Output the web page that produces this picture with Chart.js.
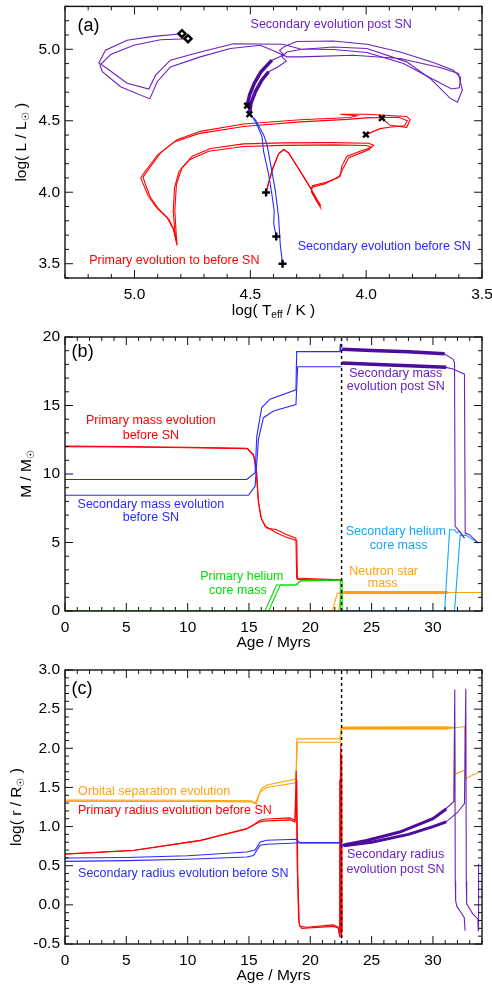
<!DOCTYPE html>
<html>
<head>
<meta charset="utf-8">
<script src="https://cdn.jsdelivr.net/npm/chart.js@4.4.1/dist/chart.umd.min.js"></script>
<style>
  body { margin: 0; background: #fff; }
  canvas { position: absolute; left: 0; }
</style>
</head>
<body>
<canvas id="hrChart" width="492" height="330" style="top:0"></canvas>
<canvas id="massChart" width="492" height="325" style="top:330px"></canvas>
<canvas id="radiusChart" width="492" height="332" style="top:655px"></canvas>
<script>
// Binary evolution figure: (a) HR diagram, (b) masses, (c) radii / separation
const FONT = '"Liberation Sans", Arial, Helvetica, sans-serif';
const RED = '#ff0000', BLUE = '#2a2aff', PURPLE = '#6a22bd', PURPLE_DARK = '#4c0c9c';
const ORANGE = '#ffa20f', GREEN = '#00dc00', SKY = '#12a6ff';

// ---- panel (a): [log Teff, log L] ----
const primaryHR1 = [[4.432,3.998],[4.421,4.067],[4.402,4.171],[4.378,4.269],[4.356,4.299],[4.335,4.275],[4.299,4.183],[4.263,4.090],[4.241,4.032],[4.213,3.951],[4.195,3.905],[4.205,3.93],[4.227,3.986],[4.241,4.032],[4.177,4.060],[4.112,4.113],[4.105,4.183],[4.083,4.252],[4.026,4.287],[3.976,4.315],[3.968,4.329],[3.990,4.343],[4.141,4.347],[4.356,4.345],[4.529,4.338],[4.672,4.306],[4.751,4.252],[4.795,4.171],[4.819,4.056],[4.826,3.870],[4.820,3.708],[4.816,3.627],[4.828,3.731],[4.852,3.812],[4.895,3.882],[4.931,3.963],[4.953,4.056],[4.963,4.106],[4.945,4.148],[4.888,4.275],[4.816,4.368],[4.716,4.426],[4.529,4.477],[4.284,4.507],[4.069,4.523],[4.040,4.535],[4.112,4.546],[3.997,4.546],[3.825,4.530],[3.810,4.507],[3.825,4.454],[3.897,4.468],[3.932,4.519]];
const primaryHR2 = [[4.432,3.998],[4.421,4.067],[4.402,4.171],[4.378,4.269],[4.356,4.299],[4.335,4.275],[4.299,4.183],[4.263,4.090],[4.241,4.032],[4.220,3.968],[4.202,3.918],[4.198,3.895],[4.215,3.94],[4.236,4.000],[4.232,4.045],[4.170,4.072],[4.118,4.105],[4.098,4.172],[4.075,4.242],[4.020,4.277],[3.985,4.300],[3.980,4.316],[4.000,4.327],[4.141,4.331],[4.356,4.328],[4.529,4.320],[4.680,4.287],[4.762,4.228],[4.808,4.145],[4.827,4.035],[4.833,3.870],[4.825,3.708],[4.818,3.640],[4.833,3.745],[4.860,3.823],[4.905,3.893],[4.941,3.975],[4.963,4.060],[4.973,4.100],[4.957,4.140],[4.900,4.262],[4.828,4.352],[4.724,4.410],[4.529,4.460],[4.284,4.492],[4.080,4.510],[4.000,4.520],[3.860,4.525],[3.822,4.500],[3.835,4.465],[3.900,4.455],[3.940,4.445],[4.001,4.403]];
const secondaryHR1 = [[4.388,3.690],[4.399,3.778],[4.397,3.870],[4.407,3.986],[4.421,4.125],[4.443,4.287],[4.450,4.391],[4.471,4.472],[4.500,4.553],[4.514,4.606]];
const secondaryHR2 = [[4.361,3.500],[4.371,3.639],[4.378,3.824],[4.392,4.009],[4.407,4.148],[4.428,4.333],[4.443,4.403],[4.478,4.507],[4.504,4.546]];
const postSNHR1 = [[4.514,4.606],[4.503,4.681],[4.483,4.762],[4.454,4.843],[4.407,4.924],[4.371,4.950],[4.356,4.963],[4.374,4.993],[4.352,5.020],[4.300,5.054],[4.141,5.058],[3.997,5.035],[3.853,4.981],[3.710,4.907],[3.624,4.854],[3.592,4.801],[3.598,4.731],[3.631,4.722],[3.724,4.801],[3.839,4.900],[3.997,4.977],[4.141,4.998],[4.284,5.002],[4.360,5.035],[4.572,5.039],[4.716,4.981],[4.845,4.924],[4.909,4.819],[4.938,4.722],[5.032,4.762],[5.118,4.866],[5.154,4.905],[5.125,4.993],[5.032,5.063],[4.917,5.090],[4.795,5.109]];
const postSNHR2 = [[4.504,4.546],[4.497,4.623],[4.478,4.704],[4.450,4.785],[4.421,4.843],[4.378,4.880],[4.345,4.917],[4.364,4.947],[4.342,4.981],[4.284,4.998],[4.141,5.016],[3.997,5.005],[3.825,4.912],[3.724,4.796],[3.638,4.658],[3.606,4.630],[3.585,4.715],[3.602,4.831],[3.681,4.873],[3.853,4.935],[4.055,4.958],[4.284,4.947],[4.342,4.947],[4.400,4.990],[4.457,5.028],[4.586,5.005],[4.716,4.947],[4.845,4.877],[4.902,4.773],[4.934,4.653],[5.060,4.738],[5.139,4.843],[5.149,4.889],[5.103,4.963],[5.003,5.028],[4.888,5.067],[4.769,5.074]];
const postSNThickHR1 = [[4.514,4.606],[4.503,4.681],[4.483,4.762],[4.454,4.843],[4.407,4.924]];
const postSNThickHR2 = [[4.504,4.546],[4.497,4.623],[4.478,4.704],[4.450,4.785],[4.421,4.843]];
const startPoints = [[4.432,3.998],[4.388,3.690],[4.361,3.500]];
const snPoints = [[4.514,4.606],[4.504,4.546],[3.932,4.519],[4.001,4.403]];
const endPoints = [[4.795,5.109],[4.769,5.074]];

// ---- panel (b): [age Myr, mass Msun] ----
const primaryMass1 = [[0,12.04],[5,12.0],[10,11.95],[14.82,11.87],[15.36,11.43],[15.5,10.8],[15.64,10.09],[15.77,7.89],[16.04,6.67],[16.45,6.06],[17.26,5.93],[18.0,5.6],[18.83,5.32],[18.89,2.39],[19.16,2.39],[22.5,2.27]];
const primaryMass2 = [[0,12.0],[5,11.97],[10,11.92],[14.9,11.85],[15.4,11.3],[15.6,10.0],[15.74,8.3],[15.95,6.9],[16.3,6.2],[17.26,5.69],[18.0,5.4],[18.9,5.13],[18.95,2.3],[19.3,2.3],[22.6,2.22]];
const secondaryMass1 = [[0,9.6],[14.82,9.6],[15.5,10.09],[15.64,12.77],[16.04,14.85],[16.72,15.46],[18.83,16.14],[18.89,18.93],[22.41,18.93],[22.45,19.5],[22.5,18.95]];
const secondaryMass2 = [[0,8.45],[14.96,8.45],[15.5,9.11],[15.77,12.53],[16.18,14.11],[17.0,14.6],[18.83,15.07],[18.97,17.83],[22.55,17.83]];
const postSNMass1 = [[22.55,19.07],[25,19.0],[28,18.9],[30.95,18.75],[31.63,18.39],[31.76,18.14],[31.81,6.18],[32.17,5.81],[32.57,5.32]];
const postSNMass2 = [[22.55,18.07],[26,17.95],[31.08,17.78],[31.63,17.66],[32.57,17.29],[32.63,5.69],[32.98,5.57],[33.71,4.96]];
const postSNThickMass1 = [[22.6,19.1],[25,19.02],[28,18.92],[30.95,18.78]];
const postSNThickMass2 = [[22.6,18.1],[26,17.97],[31.08,17.8]];
const primaryCore1 = [[0,0],[16.3,0],[17.25,1.9],[18.8,1.9],[19.2,2.2],[22.45,2.25],[22.45,0]];
const primaryCore2 = [[0,0],[16.6,0],[17.55,1.9],[18.9,1.92],[19.25,2.25],[22.6,2.25],[22.6,0]];
const nsMass1 = [[0,0],[21.8,0],[22.2,1.29],[22.5,1.32],[31.2,1.35],[34,1.35]];
const nsMass2 = [[0,0],[22.3,0],[22.55,1.3],[31.2,1.37]];
const nsMassThick = [[22.6,1.35],[31.2,1.35]];
const secondaryCore1 = [[22.6,0],[30.95,0],[31.36,5.93],[31.76,5.93],[31.9,5.75],[32.0,5.69],[32.1,5.85],[32.57,5.32]];
const secondaryCore2 = [[22.6,0],[31.76,0],[32.22,5.52],[32.71,5.52],[33.71,4.96]];

// ---- panel (c): [age Myr, log r/Rsun] ----
const orbit1 = [[0,1.338],[10,1.336],[15.2,1.33],[15.5,1.295],[15.8,1.40],[16.04,1.487],[16.45,1.53],[18.83,1.607],[18.9,2.12],[22.41,2.12],[22.5,2.265],[31.22,2.27],[31.76,2.265],[31.8,1.667],[32.55,1.72]];
const orbit2 = [[0,1.322],[10,1.32],[15.3,1.315],[15.6,1.29],[15.9,1.44],[16.45,1.50],[18.83,1.56],[18.95,2.077],[22.45,2.077],[22.55,2.25],[31.22,2.25],[32.6,2.278],[32.65,1.615],[33.71,1.69]];
const orbitThick = [[22.6,2.26],[31.22,2.26]];
const primaryRadius1 = [[0,0.65],[5.61,0.697],[11.03,0.825],[14.82,0.974],[15.5,1.038],[15.91,1.081],[16.18,1.094],[18.35,1.111],[18.75,1.081],[18.85,1.709],[18.92,0.6],[19.05,-0.2],[19.16,-0.274],[19.7,-0.286],[21.87,-0.256],[22.28,-0.286],[22.36,-0.37],[22.4,1.6],[22.44,-0.3],[22.48,2.06],[22.52,-0.4],[22.56,1.9],[22.6,-0.35]];
const primaryRadius2 = [[0,0.648],[5.61,0.694],[11.03,0.82],[14.82,0.968],[15.5,1.03],[15.91,1.06],[16.18,1.07],[18.35,1.085],[18.75,1.06],[18.9,1.6],[18.98,0.4],[19.1,-0.25],[19.3,-0.3],[21.9,-0.275],[22.3,-0.3],[22.42,-0.42],[22.46,1.95],[22.5,-0.3],[22.58,-0.42]];
const secondaryRadius1 = [[0,0.598],[5,0.605],[10,0.628],[14.82,0.675],[15.5,0.70],[15.91,0.803],[16.45,0.825],[18.83,0.838],[19.16,0.795],[22.41,0.795],[22.6,0.77]];
const secondaryRadius2 = [[0,0.556],[5,0.565],[10,0.583],[14.82,0.611],[15.37,0.63],[15.91,0.761],[16.45,0.774],[18.83,0.79],[19.16,0.79],[22.41,0.79],[22.6,0.765]];
const postSNRadius1 = [[22.6,0.77],[23,0.76],[24.58,0.825],[27.29,0.932],[30.0,1.103],[31.08,1.231],[31.7,1.32],[31.78,2.75],[31.82,0.3],[31.85,0.056],[31.95,-0.02],[32.3,-0.1],[32.55,-0.16],[32.62,-0.33]];
const postSNRadius2 = [[22.6,0.765],[23,0.752],[25,0.8],[28,0.9],[30.0,1.0],[31.08,1.06],[32.0,1.18],[32.57,1.295],[32.68,2.76],[32.72,0.3],[32.75,0.013],[33.25,-0.115],[33.66,-0.18],[33.7,-0.33],[33.72,0.525]];
const postSNThickRadius1 = [[22.7,0.765],[24.58,0.822],[27.29,0.93],[30.0,1.1],[31.08,1.225]];
const postSNThickRadius2 = [[22.7,0.755],[25,0.8],[28,0.9],[30.0,1.0],[31.08,1.06]];

const snAge = 22.55;

Chart.defaults.font.family = FONT;
Chart.defaults.color = '#000';

function pts(arr) {
    return arr.map(p => ({ x: p[0], y: p[1] }));
}

function track(arr, color, width) {
    return { data: pts(arr), showLine: true, borderColor: color, borderWidth: width || 1.1, pointRadius: 0, tension: 0 };
}

function marks(arr, style, radius, fill) {
    return { data: pts(arr), showLine: false, pointStyle: style, pointRadius: radius,
             borderColor: '#000', backgroundColor: fill || '#000', pointBorderWidth: 2.4 };
}

function snLine(ymin, ymax) {
    return { data: [{ x: snAge, y: ymin }, { x: snAge, y: ymax }], showLine: true, borderColor: '#000',
             borderWidth: 1.4, borderDash: [3, 3], pointRadius: 0 };
}

// box + inward major/minor ticks on all four sides (IDL style)
const frameTicks = {
    id: 'frameTicks',
    afterDatasetsDraw(chart, args, o) {
        const { ctx, chartArea: a, scales: { x, y } } = chart;
        ctx.save();
        ctx.strokeStyle = '#111';
        ctx.lineWidth = 1;
        const seg = (x1, y1, x2, y2) => { ctx.beginPath(); ctx.moveTo(x1, y1); ctx.lineTo(x2, y2); ctx.stroke(); };
        const each = (scale, minor, major, fn) => {
            const lo = Math.min(scale.min, scale.max), hi = Math.max(scale.min, scale.max);
            for (let k = Math.ceil(lo / minor - 1e-6); k * minor <= hi + 1e-9; k++) {
                const v = k * minor;
                const isMajor = Math.abs(v / major - Math.round(v / major)) < 1e-6;
                fn(scale.getPixelForValue(v), isMajor ? 8 : 4);
            }
        };
        each(x, o.xMinor, o.xMajor, (px, len) => { seg(px, a.bottom, px, a.bottom - len); seg(px, a.top, px, a.top + len); });
        each(y, o.yMinor, o.yMajor, (py, len) => { seg(a.left, py, a.left + len, py); seg(a.right, py, a.right - len, py); });
        ctx.lineWidth = 1.4;
        ctx.strokeRect(a.left, a.top, a.right - a.left, a.bottom - a.top);
        ctx.restore();
    }
};

// text labels placed in data coordinates
const notes = {
    id: 'notes',
    afterDatasetsDraw(chart, args, o) {
        const { ctx, scales: { x, y } } = chart;
        ctx.save();
        ctx.textBaseline = 'middle';
        for (const n of o.items) {
            ctx.font = (n.size || 12.5) + 'px ' + FONT;
            ctx.fillStyle = n.color || '#000';
            ctx.textAlign = n.align || 'center';
            ctx.fillText(n.text, x.getPixelForValue(n.x), y.getPixelForValue(n.y));
        }
        ctx.restore();
    }
};

// axis titles with subscripts
function richText(ctx, parts, cx, cy, size) {
    const sub = size * 0.66;
    let total = 0;
    const widths = parts.map(p => {
        ctx.font = (p[1] ? sub : size) + 'px ' + FONT;
        const w = ctx.measureText(p[0]).width;
        total += w;
        return w;
    });
    let xx = cx - total / 2;
    parts.forEach((p, i) => {
        ctx.font = (p[1] ? sub : size) + 'px ' + FONT;
        ctx.fillText(p[0], xx, cy + (p[1] ? size * 0.3 : 0));
        xx += widths[i];
    });
}

const axisTitles = {
    id: 'axisTitles',
    afterDraw(chart, args, o) {
        const { ctx, chartArea: a } = chart;
        ctx.save();
        ctx.fillStyle = '#000';
        ctx.textAlign = 'left';
        ctx.textBaseline = 'middle';
        richText(ctx, o.x, (a.left + a.right) / 2, a.bottom + o.xOffset, 15.5);
        ctx.translate(o.yPos, (a.top + a.bottom) / 2);
        ctx.rotate(-Math.PI / 2);
        richText(ctx, o.y, 0, 0, 15.5);
        ctx.restore();
    }
};

function makeChart(id, datasets, s) {
    return new Chart(document.getElementById(id), {
        type: 'scatter',
        data: { datasets },
        options: {
            responsive: false,
            animation: false,
            events: [],
            layout: { padding: { left: 0, right: 10, top: s.top, bottom: 0 } },
            plugins: {
                legend: { display: false },
                tooltip: { enabled: false },
                frameTicks: s.ticks,
                notes: { items: s.notes },
                axisTitles: s.titles
            },
            scales: {
                x: {
                    type: 'linear', min: s.xMin, max: s.xMax, reverse: !!s.xReverse,
                    grid: { display: false, drawTicks: false }, border: { display: false },
                    afterFit: sc => { sc.height = s.xHeight; sc.paddingLeft = 0; sc.paddingRight = 0; },
                    ticks: { stepSize: s.ticks.xMajor, includeBounds: false, maxRotation: 0, padding: 7,
                             font: { size: 15.5 }, callback: v => v.toFixed(s.xDec) }
                },
                y: {
                    type: 'linear', min: s.yMin, max: s.yMax,
                    grid: { display: false, drawTicks: false }, border: { display: false },
                    afterFit: sc => { sc.width = 65; sc.paddingTop = 0; sc.paddingBottom = 0; },
                    ticks: { stepSize: s.ticks.yMajor, includeBounds: false, padding: 5,
                             font: { size: 15.5 }, callback: v => v.toFixed(s.yDec) }
                }
            }
        },
        plugins: [frameTicks, notes, axisTitles]
    });
}

// (a) HR diagram
makeChart('hrChart', [
    marks(startPoints, 'cross', 4),
    marks(snPoints, 'crossRot', 4),
    marks(endPoints, 'rectRot', 3.5, '#fff'),
    track(postSNThickHR1, PURPLE_DARK, 3.5),
    track(postSNThickHR2, PURPLE_DARK, 3.5),
    track(postSNHR1, PURPLE),
    track(postSNHR2, PURPLE),
    track(secondaryHR1, BLUE),
    track(secondaryHR2, BLUE),
    track(primaryHR1, RED),
    track(primaryHR2, RED)
], {
    top: 5, xHeight: 52, xMin: 3.5, xMax: 5.3, xReverse: true, yMin: 3.4, yMax: 5.3, xDec: 1, yDec: 1,
    ticks: { xMajor: 0.5, xMinor: 0.1, yMajor: 0.5, yMinor: 0.1 },
    titles: { x: [['log( T'], ['eff', 1], [' / K )']], y: [['log( L / L'], ['\u2609', 1], [' )']], xOffset: 33, yPos: 22 },
    notes: [
        { text: '(a)', x: 5.246, y: 5.162, size: 18, align: 'left' },
        { text: 'Secondary evolution post SN', x: 4.151, y: 5.176, color: PURPLE },
        { text: 'Primary evolution to before SN', x: 4.828, y: 3.523, color: RED },
        { text: 'Secondary evolution before SN', x: 3.922, y: 3.620, color: BLUE }
    ]
});

// (b) masses
makeChart('massChart', [
    snLine(0, 20),
    track(postSNThickMass1, PURPLE_DARK, 3.5),
    track(postSNThickMass2, PURPLE_DARK, 3.5),
    track(postSNMass1, PURPLE),
    track(postSNMass2, PURPLE),
    track(secondaryCore1, SKY),
    track(secondaryCore2, SKY),
    track(primaryCore1, GREEN),
    track(primaryCore2, GREEN),
    track(nsMassThick, ORANGE, 3),
    track(nsMass1, ORANGE),
    track(nsMass2, ORANGE),
    track(secondaryMass1, BLUE),
    track(secondaryMass2, BLUE),
    track(primaryMass1, RED),
    track(primaryMass2, RED)
], {
    top: 7, xHeight: 44, xMin: 0, xMax: 34, yMin: 0, yMax: 20, xDec: 0, yDec: 0,
    ticks: { xMajor: 5, xMinor: 1, yMajor: 5, yMinor: 1 },
    titles: { x: [['Age / Myrs']], y: [['M / M'], ['\u2609', 1]], xOffset: 32, yPos: 27 },
    notes: [
        { text: '(b)', x: 0.54, y: 18.9, size: 18, align: 'left' },
        { text: 'Primary mass evolution', x: 7.0, y: 13.87, color: RED },
        { text: 'before SN', x: 7.0, y: 12.84, color: RED },
        { text: 'Secondary mass evolution', x: 7.0, y: 7.77, color: BLUE },
        { text: 'before SN', x: 7.0, y: 6.84, color: BLUE },
        { text: 'Secondary mass', x: 26.97, y: 17.34, color: PURPLE },
        { text: 'evolution post SN', x: 26.97, y: 16.36, color: PURPLE },
        { text: 'Secondary helium', x: 26.97, y: 5.79, color: SKY },
        { text: 'core mass', x: 27.2, y: 4.76, color: SKY },
        { text: 'Primary helium', x: 14.42, y: 2.49, color: GREEN },
        { text: 'core mass', x: 14.1, y: 1.49, color: GREEN },
        { text: 'Neutron star', x: 25.98, y: 2.88, color: ORANGE },
        { text: 'mass', x: 25.9, y: 2.03, color: ORANGE }
    ]
});

// (c) radii and orbital separation
makeChart('radiusChart', [
    snLine(-0.5, 3.0),
    track(postSNThickRadius1, PURPLE_DARK, 3),
    track(postSNThickRadius2, PURPLE_DARK, 3),
    track(postSNRadius1, PURPLE),
    track(postSNRadius2, PURPLE),
    track(secondaryRadius1, BLUE),
    track(secondaryRadius2, BLUE),
    track(primaryRadius1, RED),
    track(primaryRadius2, RED),
    track(orbitThick, ORANGE, 3),
    track(orbit1, ORANGE),
    track(orbit2, ORANGE)
], {
    top: 15, xHeight: 43, xMin: 0, xMax: 34, yMin: -0.5, yMax: 3.0, xDec: 0, yDec: 1,
    ticks: { xMajor: 5, xMinor: 1, yMajor: 0.5, yMinor: 0.1 },
    titles: { x: [['Age / Myrs']], y: [['log( r / R'], ['\u2609', 1], [' )']], xOffset: 32, yPos: 17 },
    notes: [
        { text: '(c)', x: 0.54, y: 2.756, size: 18, align: 'left' },
        { text: 'Orbital separation evolution', x: 7.27, y: 1.453, color: ORANGE },
        { text: 'Primary radius evolution before SN', x: 8.96, y: 1.200, color: RED },
        { text: 'Secondary radius evolution before SN', x: 9.65, y: 0.405, color: BLUE },
        { text: 'Secondary radius', x: 26.95, y: 0.645, color: PURPLE },
        { text: 'evolution post SN', x: 26.95, y: 0.449, color: PURPLE }
    ]
});
</script>
</body>
</html>
